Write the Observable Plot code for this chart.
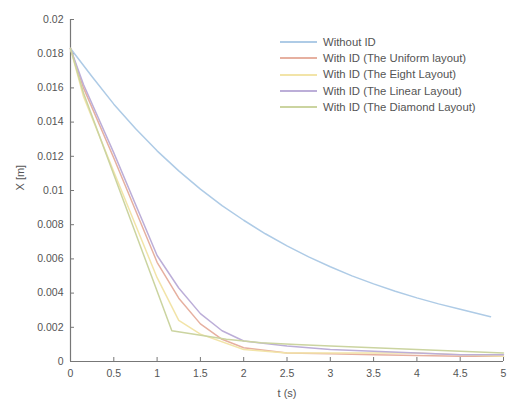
<!DOCTYPE html>
<html>
<head>
<meta charset="utf-8">
<script src="https://cdn.jsdelivr.net/npm/d3@7"></script>
<script src="https://cdn.jsdelivr.net/npm/@observablehq/plot@0.6"></script>
<style>
  html, body { margin: 0; padding: 0; background: #fff; }
  #wrap { position: relative; width: 508px; height: 403px; font-family: "Liberation Sans", Arial, sans-serif; }
  #legend { position: absolute; left: 280px; top: 34px; font-size: 11.3px; color: #555; line-height: 16.2px; }
  #legend .row { display: flex; align-items: center; white-space: nowrap; }
  #legend svg { margin-right: 6px; }
</style>
</head>
<body>
<div id="wrap"></div>
<script>
// ---- data ----
const seriesNames = [
  "Without ID",
  "With ID (The Uniform layout)",
  "With ID (The Eight Layout)",
  "With ID (The Linear Layout)",
  "With ID (The Diamond Layout)"
];
const seriesColors = ["#aecbe6", "#e6b0a0", "#f2e4a8", "#bcaed8", "#cbd4a0"];

const tWithout = [0, 0.25, 0.5, 0.75, 1, 1.25, 1.5, 1.75, 2, 2.25, 2.5, 2.75, 3, 3.25, 3.5, 3.75, 4, 4.25, 4.5, 4.85];
const xWithout = [0.0183, 0.01665, 0.01505, 0.01362, 0.01232, 0.01115, 0.01008, 0.00912, 0.00826, 0.00747, 0.00676, 0.00612, 0.00554, 0.00501, 0.00454, 0.00411, 0.00372, 0.00337, 0.00305, 0.00262];

const tUniform = [0, 0.15, 0.5, 1, 1.25, 1.5, 1.75, 2, 2.5, 3, 3.5, 4, 4.5, 5];
const xUniform = [0.0183, 0.0160, 0.0119, 0.0058, 0.0037, 0.0022, 0.0013, 0.0008, 0.0005, 0.00045, 0.0004, 0.00035, 0.0003, 0.0003];

const tEight = [0, 0.15, 0.5, 1, 1.25, 1.5, 2, 2.5, 3, 3.5, 4, 4.5, 5];
const xEight = [0.0183, 0.0155, 0.0111, 0.0049, 0.0024, 0.0016, 0.0007, 0.0005, 0.0005, 0.0005, 0.0005, 0.0004, 0.0003];

const tLinear = [0, 0.15, 0.5, 1, 1.25, 1.5, 1.75, 2, 2.5, 3, 3.5, 4, 4.5, 5];
const xLinear = [0.0183, 0.0162, 0.0122, 0.0062, 0.0043, 0.0028, 0.0018, 0.0012, 0.0009, 0.0007, 0.0006, 0.0005, 0.0004, 0.0004];

const tDiamond = [0, 0.15, 0.92, 1.17, 1.8, 2.2, 2.6, 3, 3.5, 4, 4.5, 5];
const xDiamond = [0.0183, 0.0157, 0.0052, 0.0018, 0.0013, 0.0011, 0.0010, 0.0009, 0.0008, 0.0007, 0.0006, 0.0005];

const xTicks = [0, 0.5, 1, 1.5, 2, 2.5, 3, 3.5, 4, 4.5, 5];
const yTicks = [0, 0.002, 0.004, 0.006, 0.008, 0.01, 0.012, 0.014, 0.016, 0.018, 0.02];

// ---- build table ----
const allT = [tWithout, tUniform, tEight, tLinear, tDiamond];
const allX = [xWithout, xUniform, xEight, xLinear, xDiamond];
const rows = [];
allT.forEach((ts, i) => ts.forEach((t, j) => rows.push({series: seriesNames[i], t, x: allX[i][j]})));

const fmt = d => String(+d.toFixed(4));

const chart = Plot.plot({
  width: 508,
  height: 403,
  marginLeft: 70,
  marginRight: 5,
  marginTop: 19,
  marginBottom: 42,
  style: {fontFamily: "Liberation Sans, Arial, sans-serif", fontSize: "10.5px", color: "#555", background: "#fff"},
  x: {domain: [0, 5]},
  y: {domain: [0, 0.02]},
  color: {domain: seriesNames, range: seriesColors},
  marks: [
    Plot.axisX({ticks: xTicks, tickFormat: fmt, tickSize: -4, tickPadding: 12, stroke: "#777", fill: "#555", label: null}),
    Plot.axisY({ticks: yTicks, tickFormat: fmt, tickSize: -4, tickPadding: 11, stroke: "#777", fill: "#555", label: null}),
    Plot.ruleX([0], {stroke: "#777", strokeWidth: 1.2}),
    Plot.ruleY([0], {stroke: "#777", strokeWidth: 1.2}),
    Plot.line(rows, {x: "t", y: "x", z: "series", stroke: "series", strokeWidth: 1.5}),
    Plot.text(["t (s)"], {frameAnchor: "bottom", dy: 35, fill: "#555", fontSize: 11}),
    Plot.text(["X [m]"], {frameAnchor: "left", dx: -50, rotate: -90, fill: "#555", fontSize: 11})
  ]
});

const wrap = document.getElementById("wrap");
wrap.appendChild(chart);

// legend
const legend = document.createElement("div");
legend.id = "legend";
seriesNames.forEach((name, i) => {
  const row = document.createElement("div");
  row.className = "row";
  row.innerHTML = `<svg width="37" height="6"><line x1="0" x2="37" y1="3" y2="3" stroke="${seriesColors[i]}" stroke-width="2"/></svg><span>${name}</span>`;
  legend.appendChild(row);
});
wrap.appendChild(legend);
</script>
</body>
</html>
